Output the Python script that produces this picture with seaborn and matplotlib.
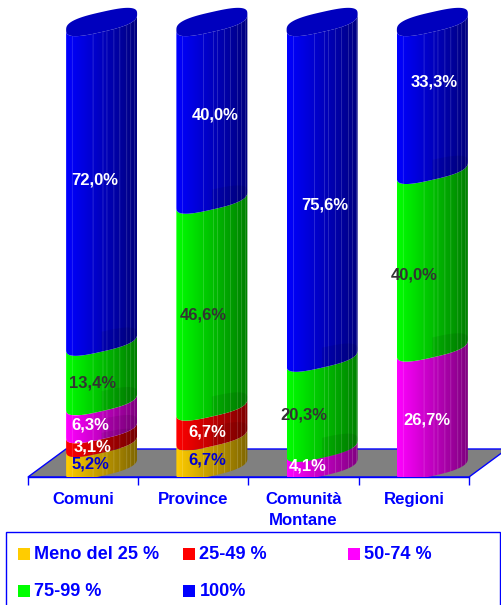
import numpy as np
import pandas as pd
import seaborn as sns
import matplotlib.pyplot as plt
from matplotlib.colors import to_rgb
from matplotlib.patches import PathPatch, Polygon, Rectangle
from matplotlib.path import Path

enti = ["Comuni", "Province", "Comunità\nMontane", "Regioni"]
fasce = ["Meno del 25 %", "25-49 %", "50-74 %", "75-99 %", "100%"]
meno_25 = [5.2, 6.7, 0, 0]
da_25_49 = [3.1, 6.7, 0, 0]
da_50_74 = [6.3, 0, 4.1, 26.7]
da_75_99 = [13.4, 46.6, 20.3, 40.0]
cento = [72.0, 40.0, 75.6, 33.3]
valori = [meno_25, da_25_49, da_50_74, da_75_99, cento]

colori = ["#FFCC00", "#FF0000", "#FF00FF", "#00FF00", "#0000FF"]
colori_testo = ["#0000D0", "white", "white", "#333333", "white"]

# hand placed label nudges in pixels, same order as valori
nudge_x = [[7, 14, 0, 0], [9, 14, 0, 0], [7, 0, 4, 13], [9, 10, 0, 0], [12, 22, 21, 20]]
nudge_y = [[-2, -1, 0, 0], [-3, -3, 0, 0], [-2, 0, -1, -5], [-4, -4, -4, -8], [10, 4, -7, 22]]

W, H = 502, 605
BLU = "#0000FF"
FONT = "Liberation Sans"

# pixel scales of the plot area
PX_X = 110.25
PX_Y = 4.44
AX_L, AX_R, AX_B = 28, 469, 477
DEPTH_X = 18.5 / PX_X
DEPTH_Y = 3 / PX_Y
BAR_W = 71 / PX_X
ELL_B = 10 / PX_Y
ELL_S = 8 / PX_Y
ELL_P = 0.7
STRISCE = [0.09, 0.38, 0.52, 0.58, 0.68, 0.75, 0.86, 0.91, 0.96]

sns.set_style("white")
plt.rcParams["font.family"] = [FONT, "DejaVu Sans"]

fig = plt.figure(figsize=(W / 100, H / 100), dpi=100)
ax = fig.add_axes([AX_L / W, (H - AX_B) / H, (AX_R - AX_L) / W, AX_B / H])

# cumulative tops, tallest first so the stacks are built by seaborn
cum = np.cumsum(np.array(valori), axis=0)
df = pd.DataFrame(cum.T, columns=fasce)
df["ente"] = enti
barre = {}
for i in range(len(fasce) - 1, -1, -1):
    sns.barplot(data=df, x="ente", y=fasce[i], color=colori[i], width=BAR_W, ax=ax)
    barre[i] = ax.containers[-1]

ax.set_xlim(-0.5, 3.5)
ax.set_ylim(0, AX_B / PX_Y)


def arco(cx, v, a, t0, t1):
    # sheared superellipse, blunter at the ends than a plain ellipse
    t = np.linspace(t0, t1, 60)
    cy = v + DEPTH_Y + ELL_S
    c = np.sign(np.cos(t)) * np.abs(np.cos(t)) ** ELL_P
    s = np.sign(np.sin(t)) * np.abs(np.sin(t)) ** ELL_P
    x = cx + a * c
    y = cy - ELL_B * s + ELL_S * c
    return np.column_stack([x, y])


def gradiente(colore):
    n = 72
    shade = np.linspace(1.0, 0.5, n)
    img = np.outer(shade, to_rgb(colore))
    for s in STRISCE:
        k = int(s * n)
        img[k] = img[k] * 0.85 + 0.15
    return img[np.newaxis, :, :]


# floor
piano_h = 28 / PX_Y
piano_d = 38 / PX_X
ax.add_patch(Polygon([[-0.5, 0], [3.5, 0], [3.5 + piano_d, piano_h], [-0.5 + piano_d, piano_h]],
                     closed=True, facecolor="#808080", edgecolor=BLU, lw=1, clip_on=False, zorder=1))

for b in range(len(enti)):
    base = 0
    for i in range(len(fasce)):
        bar = barre[i][b]
        top = bar.get_height()
        bar.set_visible(False)
        if top <= base + 1e-6:
            continue
        cx = bar.get_x() + bar.get_width() / 2 + DEPTH_X
        a = bar.get_width() / 2
        basso = arco(cx, base, a, np.pi, 0)
        alto = arco(cx, top, a, 0, np.pi)
        pts = np.vstack([basso, alto])
        path = Path(np.vstack([pts, pts[0]]), closed=True)
        im = ax.imshow(gradiente(colori[i]), extent=[cx - a, cx + a, pts[:, 1].min(), pts[:, 1].max()],
                       aspect="auto", interpolation="bilinear", zorder=3 + i * 0.1)
        clip = PathPatch(path, transform=ax.transData, facecolor="none", edgecolor="none")
        im.set_clip_path(clip)

        # back of the previous ring showing through
        if base > 0:
            ombra = np.vstack([arco(cx, base, a, -np.pi / 2, 0), arco(cx, base, a, 0, np.pi / 2)])
            ax.add_patch(Polygon(ombra, closed=True, facecolor="black", edgecolor="none", alpha=0.08, zorder=3.6))

        if i == len(fasce) - 1:
            tappo = np.vstack([arco(cx, top, a, 0, np.pi), arco(cx, top, a, np.pi, 2 * np.pi)])
            ax.add_patch(Polygon(tappo, closed=True, facecolor="#0000BE", edgecolor="none", zorder=3.7))

        ax.annotate(f"{valori[i][b]:.1f}%".replace(".", ","),
                    xy=(b, (base + top) / 2 + (AX_B - 474) / PX_Y),
                    xytext=(nudge_x[i][b], nudge_y[i][b]), textcoords="offset pixels",
                    ha="center", va="center", color=colori_testo[i], fontsize=12,
                    fontweight="bold", zorder=5)
        base = top

ax.set_xlim(-0.5, 3.5)
ax.set_ylim(0, AX_B / PX_Y)

# axes
sns.despine(ax=ax, left=True, top=True, right=True)
ax.patch.set_visible(False)
ax.spines["bottom"].set_color(BLU)
ax.spines["bottom"].set_linewidth(1)
ax.set_xlabel("")
ax.set_ylabel("")
ax.set_yticks([])
ax.set_xticks(range(len(enti)))
ax.set_xticklabels(enti, fontsize=12.1, fontweight="bold", color=BLU, linespacing=1.45)
ax.tick_params(axis="x", which="major", length=0, pad=11)
ax.set_xticks(np.arange(-0.5, 4, 1), minor=True)
ax.tick_params(axis="x", which="minor", length=6, width=1, color=BLU, bottom=True)

# legend box
fig.add_artist(Rectangle((6 / W, (H - 608) / H), 494 / W, 76 / H, transform=fig.transFigure,
                         facecolor="white", edgecolor=BLU, lw=1))
leg_x = [18, 183, 348, 18, 183]
leg_y = [554, 554, 554, 591, 591]
for i, f in enumerate(fasce):
    fig.add_artist(Rectangle((leg_x[i] / W, (H - leg_y[i] - 6) / H), 12 / W, 12 / H,
                             transform=fig.transFigure, facecolor=colori[i], edgecolor="none"))
    fig.text((leg_x[i] + 16.5) / W, (H - leg_y[i] - 0.5) / H, f, color=BLU, fontsize=13.1,
             fontweight="bold", va="center", ha="left")

fig.savefig("out.png", dpi=100)
